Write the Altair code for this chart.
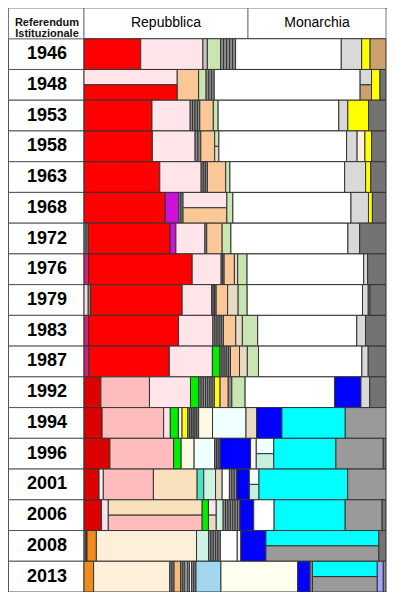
import altair as alt
import pandas as pd

W, H = 379, 584
LEFT = 76

years = ["1946", "1948", "1953", "1958", "1963", "1968", "1972", "1976", "1979",
         "1983", "1987", "1992", "1994", "1996", "2001", "2006", "2008", "2013"]

# header: 1946 institutional referendum
ref_labels = ["Repubblica", "Monarchia"]
ref_values = [54.3, 45.7]

# party keys per election (left -> right); "^" = upper half, "_" = lower half of a coalition
p1946 = ["PCI", "PSI", "PdA", "PRI", "Altri", "Altri", "Altri", "Altri", "Altri", "DC", "PLI", "MON", "UQ"]
v1946 = [18.9, 20.7, 1.5, 4.4, 1.0, 1.0, 1.0, 1.0, 1.0, 35.2, 6.8, 2.8, 5.3]

p1948 = ["PSI^", "PCI_", "PSDI", "PRI", "Altri", "Altri", "Altri", "DC", "PLI^", "UQ_", "MON", "MSI"]
v1948 = [31.0, 31.0, 7.1, 2.5, 0.9, 0.9, 0.9, 48.5, 3.8, 3.8, 2.8, 2.0]

p1953 = ["PCI", "PSI", "Altri", "Altri", "Altri", "Altri", "PSDI", "PRI", "DC", "PLI", "MON", "MSI"]
v1953 = [22.6, 12.7, 0.8, 0.8, 0.8, 0.8, 4.5, 1.6, 40.1, 3.0, 6.9, 5.8]

p1958 = ["PCI", "PSI", "Altri", "Altri", "PSDI", "PRI^", "PR_", "DC", "PLI", "PMP", "MON", "MSI"]
v1958 = [22.7, 14.2, 0.95, 0.95, 4.6, 1.4, 1.4, 42.4, 3.5, 2.6, 2.2, 4.8]

p1963 = ["PCI", "PSI", "Altri", "Altri", "Altri", "PSDI", "PRI", "DC", "PLI", "MON", "MSI"]
v1963 = [25.3, 13.8, 0.7, 0.7, 0.7, 6.1, 1.4, 38.3, 7.0, 1.7, 5.1]

p1968 = ["PCI", "PSIUP", "Altri", "Altri", "PSI^", "PSDI_", "PRI", "DC", "PLI", "MON", "MSI"]
v1968 = [26.9, 4.5, 0.7, 0.7, 14.5, 14.5, 2.0, 39.1, 5.8, 1.3, 4.5]

p1972 = ["Altri", "Altri", "PCI", "PSIUP", "PSI", "Altri", "PSDI", "PRI", "DC", "PLI", "MSI"]
v1972 = [0.7, 0.7, 27.1, 1.9, 9.6, 0.6, 5.1, 2.9, 38.7, 3.9, 8.7]

p1976 = ["DP", "PCI", "PSI", "Altri", "Altri", "PSDI", "PR", "PRI", "DC", "PLI", "MSI"]
v1976 = [1.5, 34.4, 9.6, 0.5, 0.5, 3.4, 1.1, 3.1, 38.7, 1.3, 6.1]

p1979 = ["PdUP", "Altri", "PCI", "PSI", "Altri", "Altri", "Altri", "PSDI", "PR", "PRI", "DC", "PLI", "Altri", "MSI"]
v1979 = [1.4, 0.8, 30.4, 9.8, 0.5, 0.5, 0.5, 3.8, 3.5, 3.0, 38.3, 1.9, 0.6, 5.3]

p1983 = ["DP", "PCI", "PSI", "Altri", "Altri", "Altri", "Altri", "Altri", "PSDI", "PR", "PRI", "DC", "PLI", "MSI"]
v1983 = [1.5, 29.9, 11.4, 0.7, 0.7, 0.7, 0.7, 0.7, 4.1, 2.2, 5.1, 32.9, 2.9, 6.8]

p1987 = ["DP", "PCI", "PSI", "VERDI", "Altri", "Altri", "Altri", "Altri", "Altri", "PSDI", "PR", "PRI", "DC", "PLI", "MSI"]
v1987 = [1.7, 26.6, 14.3, 2.5, 0.7, 0.7, 0.7, 0.7, 0.7, 3.0, 2.6, 3.7, 34.3, 2.1, 5.9]

p1992 = ["PRC", "PDS", "PSI", "VERDI", "Altri", "Altri", "Altri", "Altri", "Altri", "Altri", "Altri",
         "RETE", "PSDI", "Altri", "PRI", "DC", "LEGA", "PLI", "MSI"]
v1992 = [5.6, 16.1, 13.6, 2.8, 0.73, 0.73, 0.73, 0.73, 0.73, 0.73, 0.73,
         1.9, 2.7, 1.2, 4.4, 29.7, 8.7, 2.9, 5.4]

p1994 = ["PRC", "PDS", "PSI", "VERDI", "AD", "RETE", "Altri", "Altri", "Altri", "Altri", "Altri", "Altri",
         "SEGNI", "PPI", "PR", "LEGA", "FI", "AN"]
v1994 = [6.0, 20.4, 2.2, 2.7, 1.2, 1.9, 0.6, 0.6, 0.6, 0.6, 0.6, 0.6,
         4.6, 11.1, 3.5, 8.4, 21.0, 13.5]

p1996 = ["PRC", "PDS", "VERDI", "SEGNI", "PPI", "Altri", "Altri", "Altri", "LEGA", "Bianco",
         "PPI^", "CCD_", "FI", "AN", "MSI"]
v1996 = [8.6, 21.1, 2.5, 4.3, 6.8, 0.6, 0.6, 0.6, 10.1, 1.9, 5.8, 5.8, 20.6, 15.7, 0.9]

p2001 = ["PRC", "Bianco", "PDS", "MARGH", "GIRA", "IDV", "PR", "DC", "Altri", "Altri", "Altri",
         "LEGA", "PPI^", "CCD_", "FI", "AN"]
v2001 = [5.0, 1.4, 16.6, 14.5, 2.2, 3.9, 2.2, 2.4, 0.8, 0.8, 0.8, 4.2, 3.2, 3.2, 29.4, 12.7]

p2006 = ["PRC", "PdCI", "MARGH^", "PDS_", "VERDI", "PSI^", "PR_", "IDV", "Altri", "Altri", "Altri",
         "Altri", "Altri", "Altri", "Altri", "LEGA", "DC", "FI", "AN", "MSI"]
v2006 = [5.8, 2.3, 31.3, 31.3, 2.1, 2.6, 2.6, 2.3, 0.8, 0.8, 0.8, 0.8, 0.8, 0.8, 0.8,
         4.6, 6.8, 23.7, 12.3, 1.3]

p2008 = ["Altri", "PRC", "SA", "PD", "IDV", "Altri", "Altri", "Altri", "Altri", "Altri",
         "DC", "Bianco", "LEGA", "FI^", "AN_", "MSI"]
v2008 = [0.6, 0.4, 3.1, 33.2, 4.0, 0.78, 0.78, 0.78, 0.78, 0.78, 5.6, 1.2, 8.3, 37.4, 37.4, 2.4]

p2013 = ["SA", "PD", "Altri", "Altri", "RC", "Altri", "Altri", "Bianco", "Altri", "Bianco", "Altri", "Altri",
         "SC", "M5S", "LEGA", "Altri", "FI^", "AN_", "FDI", "Altri"]
v2013 = [3.2, 25.4, 0.7, 0.7, 2.2, 0.73, 0.73, 0.73, 0.73, 0.73, 0.73, 0.73,
         8.3, 25.6, 4.1, 0.8, 21.6, 21.6, 2.0, 0.9]

party_keys = ["PCI", "PRC", "PSIUP", "DP", "PdUP", "PdCI", "PSI", "PDS", "PdA", "PSDI", "PRI", "PR",
              "AD", "VERDI", "RETE", "Altri", "Bianco", "DC", "PPI", "SEGNI", "CCD", "MARGH", "GIRA",
              "IDV", "PD", "SA", "RC", "SC", "M5S", "PLI", "MON", "PMP", "UQ", "LEGA", "FI", "AN",
              "MSI", "FDI"]
party_colors = ["#ff0000", "#dd0000", "#cc11dd", "#cc2277", "#fbdada", "#f3e3ea", "#ffe4ea", "#ffbcbc",
                "#c9c1b9", "#fac896", "#c9e5b1", "#e6dbc1", "#fafafa", "#00ee00", "#ffff00", "#8c8c8c",
                "#f6f6f6", "#ffffff", "#f0ffff", "#fbfbe4", "#c6efe0", "#fae1bd", "#48e4c4", "#cff3e2",
                "#fdefd9", "#f08c1e", "#f6ba7c", "#a2d8ef", "#fffff0", "#d9d9d9", "#ffff00", "#fff0e0",
                "#c9a06e", "#0000ff", "#00ffff", "#9a9a9a", "#737373", "#a4a4ff"]

rows = [(p1946, v1946), (p1948, v1948), (p1953, v1953), (p1958, v1958), (p1963, v1963),
        (p1968, v1968), (p1972, v1972), (p1976, v1976), (p1979, v1979), (p1983, v1983),
        (p1987, v1987), (p1992, v1992), (p1994, v1994), (p1996, v1996), (p2001, v2001),
        (p2006, v2006), (p2008, v2008), (p2013, v2013)]

recs = []
for i, (yr, (ps, vs)) in enumerate(zip(years, rows)):
    r = i + 1
    cur = 0.0
    tcur = bcur = None
    row = []
    for p, v in zip(ps, vs):
        if p[-1] in "^_":
            if tcur is None:
                tcur = bcur = cur
            if p[-1] == "^":
                row.append(dict(year=yr, party=p[:-1], x=tcur, x2=tcur + v, y=r, y2=r + 0.5))
                tcur += v
            else:
                row.append(dict(year=yr, party=p[:-1], x=bcur, x2=bcur + v, y=r + 0.5, y2=r + 1))
                bcur += v
            continue
        if tcur is not None:
            cur = max(tcur, bcur)
            tcur = bcur = None
        row.append(dict(year=yr, party=p, x=cur, x2=cur + v, y=r, y2=r + 1))
        cur += v
    total = max(d["x2"] for d in row)
    for d in row:
        d["x"] = d["x"] / total * 100
        d["x2"] = d["x2"] / total * 100
    recs.extend(row)

segs = pd.DataFrame(recs)
xs = alt.Scale(domain=[0, 100], range=[LEFT, W - 1])
ys = alt.Scale(domain=[0, 19], range=[0, H])

bars = alt.Chart(segs).mark_rect(stroke="#333333", strokeWidth=1).encode(
    x=alt.X("x:Q", scale=xs, axis=None),
    x2="x2:Q",
    y=alt.Y("y:Q", scale=ys, axis=None),
    y2="y2:Q",
    color=alt.Color("party:N", scale=alt.Scale(domain=party_keys, range=party_colors), legend=None),
)

yr_df = pd.DataFrame({"year": years, "y": [i + 1 for i in range(len(years))]})
yr_df["y2"] = yr_df["y"] + 1
yr_df["yc"] = yr_df["y"] + 0.5

year_cells = alt.Chart(yr_df).mark_rect(fill="white", stroke="#555555", strokeWidth=1).encode(
    x=alt.value(0.5), x2=alt.value(LEFT),
    y=alt.Y("y:Q", scale=ys, axis=None), y2="y2:Q",
)
year_text = alt.Chart(yr_df).mark_text(
    font="Liberation Sans", fontWeight="bold", fontSize=18, color="black", baseline="middle", align="center"
).encode(
    x=alt.value(LEFT / 2 + 1),
    y=alt.Y("yc:Q", scale=ys, axis=None),
    text="year:N",
)

hdr = pd.DataFrame({"label": ref_labels, "v": ref_values})
hdr["x"] = [0, ref_values[0]]
hdr["x2"] = [ref_values[0], 100]
hdr["xc"] = (hdr["x"] + hdr["x2"]) / 2
hdr["y"] = 0
hdr["y2"] = 1
hdr["yc"] = 0.5

hdr_cells = alt.Chart(hdr).mark_rect(fill="white", stroke="#777777", strokeWidth=1).encode(
    x=alt.X("x:Q", scale=xs, axis=None), x2="x2:Q",
    y=alt.Y("y:Q", scale=ys, axis=None), y2="y2:Q",
)
hdr_text = alt.Chart(hdr).mark_text(
    font="Liberation Sans", fontSize=14, fontWeight=500, color="black", baseline="middle", align="center"
).encode(
    x=alt.X("xc:Q", scale=xs, axis=None),
    y=alt.Y("yc:Q", scale=ys, axis=None),
    text="label:N",
)

corner_df = pd.DataFrame({"t": ["Referendum\nIstituzionale"], "y": [0], "y2": [1], "yc": [0.5]})
corner_cell = alt.Chart(corner_df).mark_rect(fill="white", stroke="#777777", strokeWidth=1).encode(
    x=alt.value(0.5), x2=alt.value(LEFT),
    y=alt.Y("y:Q", scale=ys, axis=None), y2="y2:Q",
)
corner_text = alt.Chart(corner_df).mark_text(
    font="Liberation Sans", fontWeight="bold", fontSize=11, color="#111111",
    baseline="middle", align="center", lineBreak="\n", lineHeight=11
).encode(
    x=alt.value(LEFT / 2 + 1),
    y=alt.Y("yc:Q", scale=ys, axis=None),
    text="t:N",
)

chart = alt.layer(
    year_cells, corner_cell, hdr_cells, bars, year_text, hdr_text, corner_text
).properties(
    width=W, height=H, padding=0, autosize=alt.AutoSizeParams(type="none")
).configure_view(stroke="#555555", strokeWidth=1)

chart.save("out.html", embed_options={"renderer": "svg", "actions": False})
